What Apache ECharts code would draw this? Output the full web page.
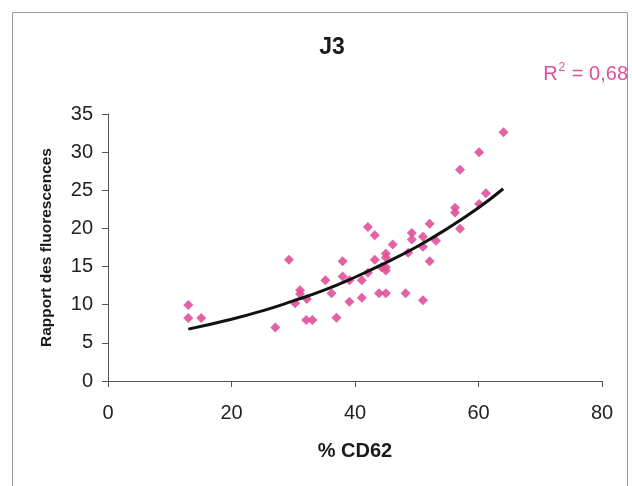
<!DOCTYPE html>
<html><head><meta charset="utf-8">
<script src="https://cdn.jsdelivr.net/npm/echarts@6/dist/echarts.min.js"></script>
<style>html,body{margin:0;padding:0;background:#fff}#c{width:632px;height:486px}</style>
</head><body><div id="c"></div>
<script>
var pointsX = [13,13,15.1,27.1,29.3,30.3,31.1,31.1,32.2,32.1,33.1,35.2,36.2,37,38,38,39.1,39.1,41.1,41.1,42.1,42.1,43.2,43.2,43.9,44.3,45,45,45,45,45,46.1,48.2,48.6,49.2,49.2,51,51,51,52.1,52.1,53.1,56.2,56.2,57,57,60.1,60.1,61.2,64.05];
var pointsY = [9.96,8.25,8.25,7.0,15.9,10.2,11.9,11.4,10.75,8.0,8.0,13.2,11.5,8.3,15.7,13.7,13.2,10.4,13.2,10.9,20.2,14.2,19.1,15.9,11.5,14.9,16.7,16.2,14.9,14.5,11.5,17.9,11.5,16.8,19.4,18.55,18.9,17.6,10.6,20.6,15.7,18.4,22.7,22.1,27.7,19.96,30.0,23.2,24.6,32.6];
var trendX = [13,20,25,30,35,40,45,50,55,60,64];
var trendY = [6.8,8.1,9.2,10.5,11.9,13.6,15.5,17.6,20.0,22.7,25.2];
var xTicks = [0,20,40,60,80];
var yTicks = [0,5,10,15,20,25,30,35];
var titleText = 'J3';
var r2Text = '0,68';

var pink = '#e0509a';
var font = 'Liberation Sans, Arial, sans-serif';
var chart = echarts.init(document.getElementById('c'), null, {renderer:'canvas'});
var scatterData = pointsX.map(function(x,i){return [x, pointsY[i]];});
var trendData = trendX.map(function(x,i){return [x, trendY[i]];});
chart.setOption({
  backgroundColor:'#fff',
  animation:false,
  title:{text:titleText, left:327, top:31, textAlign:'center',
    textStyle:{fontFamily:font, fontWeight:'bold', fontSize:23, color:'#1a1a1a'}},
  graphic:[
    {type:'rect', shape:{x:12.5,y:12.5,width:615,height:490}, style:{fill:'none', stroke:'#999', lineWidth:1}},
    {type:'text', right:4, top:62, style:{
      text:'{b|R}{s|2}{b| = ' + r2Text + '}',
      rich:{b:{fontFamily:font,fontSize:20,fill:pink,color:pink,verticalAlign:'bottom'},
            s:{fontFamily:font,fontSize:12,fill:pink,color:pink,verticalAlign:'top',padding:[0,1,10,1]}}
    }}
  ],
  grid:{left:108, right:30, top:114, bottom:105},
  xAxis:{type:'value', min:0, max:80, interval:20,
    name:'% CD62', nameLocation:'middle', nameGap:60,
    nameTextStyle:{fontFamily:font, fontWeight:'bold', fontSize:20, color:'#1a1a1a'},
    axisLine:{lineStyle:{color:'#555', width:1}},
    axisTick:{show:true, inside:false, length:6, lineStyle:{color:'#555'}},
    axisLabel:{fontFamily:font, fontSize:20, color:'#222', margin:22},
    splitLine:{show:false}},
  yAxis:{type:'value', min:0, max:35, interval:5,
    name:'Rapport des fluorescences', nameLocation:'middle', nameGap:53,
    nameTextStyle:{fontFamily:font, fontWeight:'bold', fontSize:15.5, color:'#1a1a1a'},
    axisLine:{show:true, lineStyle:{color:'#555', width:1}},
    axisTick:{show:true, inside:false, length:6, lineStyle:{color:'#555'}},
    axisLabel:{fontFamily:font, fontSize:20, color:'#222', margin:15},
    splitLine:{show:false}},
  series:[
    {type:'line', data:trendData, smooth:true, showSymbol:false, symbol:'none',
      lineStyle:{color:'#111', width:3}, z:3},
    {type:'scatter', data:scatterData, symbol:'diamond', symbolSize:10,
      itemStyle:{color:pink, opacity:0.9}, z:2}
  ]
});
</script></body></html>
